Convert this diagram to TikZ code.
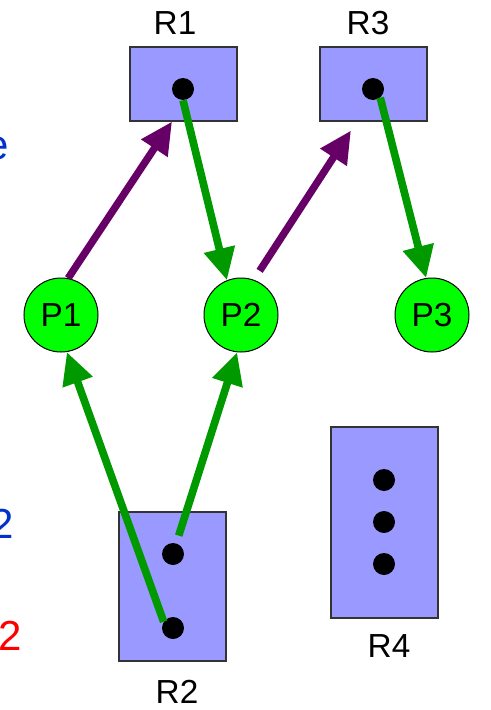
\documentclass[tikz,border=0pt]{standalone}
\usepackage{fontspec}
\setmainfont{Liberation Sans}
\usetikzlibrary{arrows.meta}

\definecolor{resfill}{RGB}{153,153,255}
\definecolor{resline}{RGB}{51,51,51}
\definecolor{procfill}{RGB}{0,255,0}
\definecolor{allocgreen}{RGB}{0,153,0}
\definecolor{reqpurple}{RGB}{102,0,102}
\definecolor{noteblue}{RGB}{0,51,204}
\definecolor{notered}{RGB}{255,0,0}

\begin{document}
\begin{tikzpicture}[x=0.75pt,y=0.75pt,yscale=-1,xscale=1,
  res/.style={draw=resline,line width=0.9pt,fill=resfill,inner sep=0pt,minimum width=80.25pt},
  proc/.style={circle,draw=black,line width=0.75pt,fill=procfill,minimum size=55.5pt,inner sep=0pt,font=\fontsize{25}{30}\selectfont},
  inst/.style={circle,fill=black,minimum size=16.5pt,inner sep=0pt},
  reslabel/.style={anchor=base,inner sep=0pt,font=\fontsize{25}{30}\selectfont},
  note/.style={anchor=base east,inner sep=0pt,font=\fontsize{31.5}{36}\selectfont},
  alloc/.style={line width=5.75pt,draw=allocgreen,-{Triangle[length=24pt,width=22.5pt]}},
  req/.style={line width=5.5pt,draw=reqpurple,-{Triangle[length=24pt,width=22.5pt]}}
]
\useasboundingbox (0,0) rectangle (490,710);

%Shape: Rectangle [R1]
\node[res,minimum height=55.5pt] (R1) at (183.5,84) {};
%Shape: Rectangle [R3]
\node[res,minimum height=55.5pt] (R3) at (373.5,84) {};
%Shape: Rectangle [R2]
\node[res,minimum height=111.75pt] (R2) at (172.5,586.5) {};
%Shape: Rectangle [R4]
\node[res,minimum height=143.25pt] (R4) at (384.5,522.5) {};

%Shape: Circle [instances]
\node[inst] (r1a) at (183,89) {};
\node[inst] (r3a) at (373,89) {};
\node[inst] (r2a) at (173,554) {};
\node[inst] (r2b) at (173,628) {};
\node[inst] (r4a) at (384,480) {};
\node[inst] (r4b) at (384,522) {};
\node[inst] (r4c) at (384,564) {};

%Shape: Circle [processes]
\node[proc] (P1) at (61,315) {P1};
\node[proc] (P2) at (241,315) {P2};
\node[proc] (P3) at (432,315) {P3};

% Text Node
\node[reslabel] (R1lbl) at (175,35) {R1};
% Text Node
\node[reslabel] (R3lbl) at (368,35) {R3};
% Text Node
\node[reslabel] (R2lbl) at (177,703) {R2};
% Text Node
\node[reslabel] (R4lbl) at (389,657) {R4};

% Text Node
\node[note,text=noteblue] (noteA) at (9,159) {e};
% Text Node
\node[note,text=noteblue] (noteB) at (14,538) {2};
% Text Node
\node[note,text=notered] (noteC) at (22,650) {2};

%Straight Lines [requests]
\draw[req] (P1.79) -- (R1.-107);
\draw[req,shorten <=8pt,shorten >=8pt] (P2.70) -- (R3.-114);

%Straight Lines [assignments]
\draw[alloc] (r1a.south) -- (P2.112);
\draw[alloc] (r3a.-50) -- (P3.99);
\draw[alloc] (r2b.146) -- (P1.-81);
\draw[alloc,shorten <=6pt] (r2a.73) -- (P2.-96);

\end{tikzpicture}
\end{document}
